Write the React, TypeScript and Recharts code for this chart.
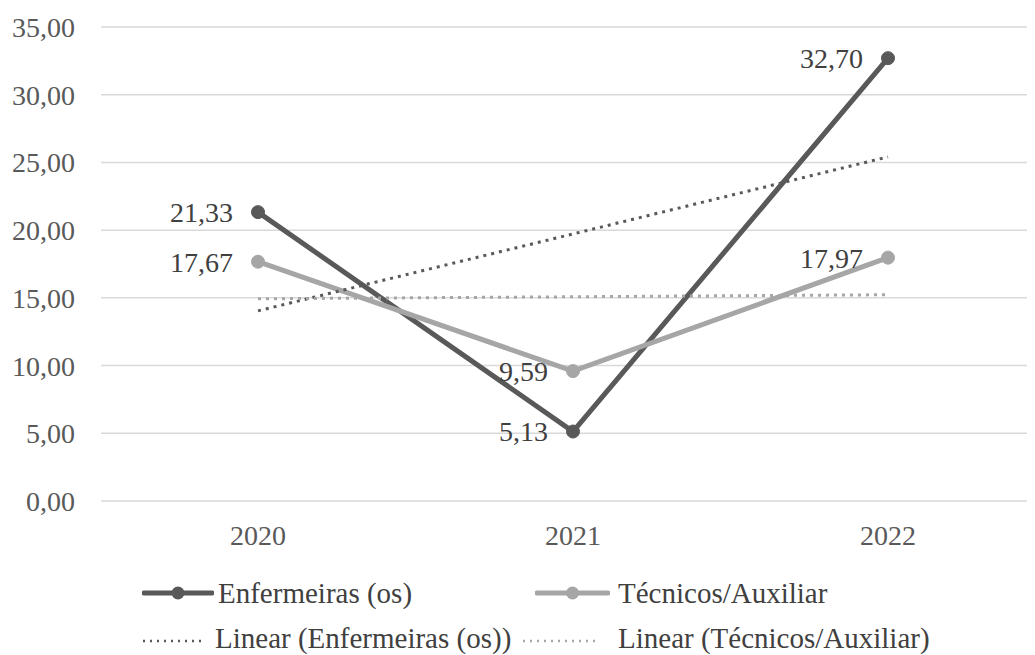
import React from 'react';
import { ComposedChart, Line, XAxis, YAxis, CartesianGrid, Legend, LabelList } from 'recharts';

const years = ['2020', '2021', '2022'];
const enfermeiras = [21.33, 5.13, 32.7];
const tecnicos = [17.67, 9.59, 17.97];
// trend lines (Excel linear trendlines)
const linearEnfermeiras = [14.04, 19.72, 25.41];
const linearTecnicos = [14.93, 15.08, 15.23];
const yTicks = [0, 5, 10, 15, 20, 25, 30, 35];

const DARK = '#595959';
const LIGHT = '#a6a6a6';
const TEXT = '#404040';
const FONT = "'Liberation Serif', 'DejaVu Serif', serif";

const chartData = years.map((year, i) => ({
    year,
    enf: enfermeiras[i],
    tec: tecnicos[i],
    linEnf: linearEnfermeiras[i],
    linTec: linearTecnicos[i],
}));

const fmt = (v: any) => Number(v).toFixed(2).replace('.', ',');

const legendItems = [
    { label: 'Enfermeiras (os)', color: DARK, kind: 'line', mx: 134, mw: 72, tx: 210, y: 52 },
    { label: 'Técnicos/Auxiliar', color: LIGHT, kind: 'line', mx: 527, mw: 75, tx: 610, y: 52 },
    { label: 'Linear (Enfermeiras (os))', color: DARK, kind: 'dot', mx: 134, mw: 63, tx: 207, y: 97 },
    { label: 'Linear (Técnicos/Auxiliar)', color: LIGHT, kind: 'dot', mx: 514, mw: 73, tx: 610, y: 97 },
];

const ChartLegend = () => (
    <div style={{ position: 'relative', width: 1027, height: 114, fontFamily: FONT }}>
        {legendItems.map((item) => (
            <React.Fragment key={item.label}>
                <svg
                    width={item.mw}
                    height={16}
                    style={{ position: 'absolute', left: item.mx, top: item.y - 8 }}
                >
                    {item.kind === 'line' ? (
                        <>
                            <line x1={2} y1={8} x2={item.mw - 2} y2={8} stroke={item.color} strokeWidth={5} strokeLinecap="round" />
                            <circle cx={item.mw / 2} cy={8} r={6.5} fill={item.color} />
                        </>
                    ) : (
                        <line x1={1} y1={11} x2={item.mw} y2={11} stroke={item.color} strokeWidth={2.5} strokeDasharray="2 5" />
                    )}
                </svg>
                <span
                    style={{
                        position: 'absolute',
                        left: item.tx,
                        top: item.y - 17,
                        fontFamily: FONT,
                        fontSize: 29,
                        lineHeight: '34px',
                        color: TEXT,
                        whiteSpace: 'nowrap',
                    }}
                >
                    {item.label}
                </span>
            </React.Fragment>
        ))}
    </div>
);

const App = () => {
    const labelStyle = { fontFamily: FONT, fontSize: 28, fill: TEXT };
    return (
        <div style={{ width: 1027, height: 647, fontFamily: FONT }}>
            <ComposedChart width={1027} height={647} data={chartData} margin={{ top: 19, right: 0, left: 0, bottom: 0 }}>
                <CartesianGrid vertical={false} stroke="#d9d9d9" strokeWidth={1.5} />
                <XAxis
                    dataKey="year"
                    scale="point"
                    padding={{ left: 157, right: 147 }}
                    axisLine={false}
                    tickLine={false}
                    tickSize={0}
                    tickMargin={24}
                    height={40}
                    tick={{ fontFamily: FONT, fontSize: 28, fill: DARK }}
                />
                <YAxis
                    domain={[0, 35]}
                    ticks={yTicks}
                    tickFormatter={fmt}
                    axisLine={false}
                    tickLine={false}
                    tickSize={0}
                    tickMargin={26}
                    width={93}
                    tick={{ fontFamily: FONT, fontSize: 28, fill: DARK }}
                />
                <Legend verticalAlign="bottom" content={() => <ChartLegend />} />
                <Line
                    dataKey="enf"
                    stroke={DARK}
                    strokeWidth={5}
                    dot={{ r: 6.5, fill: DARK, stroke: DARK, strokeWidth: 1 }}
                    isAnimationActive={false}
                >
                    <LabelList dataKey="enf" position="left" offset={25} formatter={fmt} style={labelStyle} />
                </Line>
                <Line
                    dataKey="tec"
                    stroke={LIGHT}
                    strokeWidth={5}
                    dot={{ r: 6.5, fill: LIGHT, stroke: LIGHT, strokeWidth: 1 }}
                    isAnimationActive={false}
                >
                    <LabelList dataKey="tec" position="left" offset={25} formatter={fmt} style={labelStyle} />
                </Line>
                <Line
                    dataKey="linEnf"
                    stroke={DARK}
                    strokeWidth={3}
                    strokeDasharray="3 5"
                    dot={false}
                    isAnimationActive={false}
                />
                <Line
                    dataKey="linTec"
                    stroke={LIGHT}
                    strokeWidth={3}
                    strokeDasharray="3 5"
                    dot={false}
                    isAnimationActive={false}
                />
            </ComposedChart>
        </div>
    );
};

export default App;
